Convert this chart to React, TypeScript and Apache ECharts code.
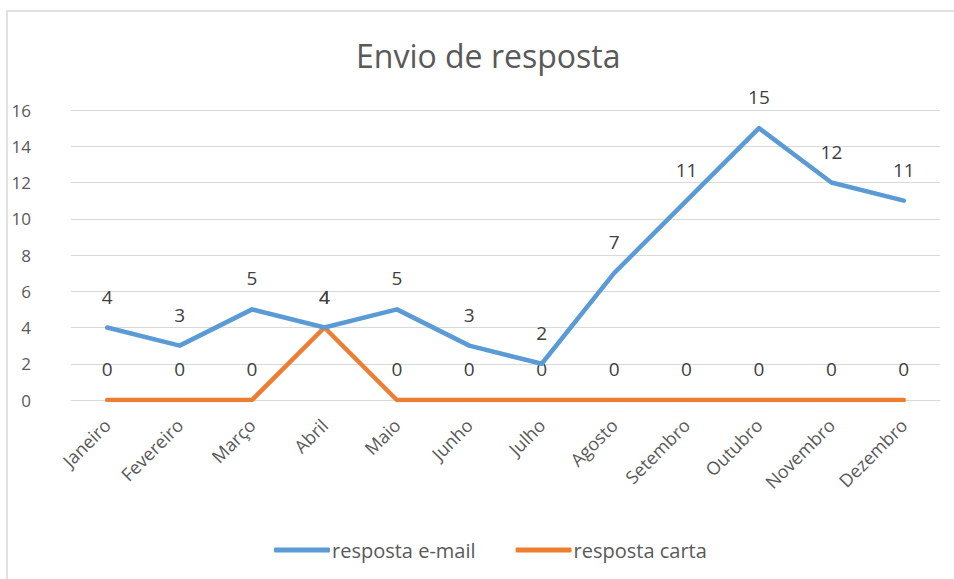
import React, { useEffect, useRef } from "react";
import * as echarts from "echarts";

const months = ["Janeiro", "Fevereiro", "Março", "Abril", "Maio", "Junho", "Julho", "Agosto", "Setembro", "Outubro", "Novembro", "Dezembro"];
const emailValues = [4, 3, 5, 4, 5, 3, 2, 7, 11, 15, 12, 11];
const cartaValues = [0, 0, 0, 4, 0, 0, 0, 0, 0, 0, 0, 0];
const seriesNames = ["resposta e-mail", "resposta carta"];
const seriesColors = ["#5B9BD5", "#ED7D31"];
const titleText = "Envio de resposta";

const FONT = "'Open Sans', 'Liberation Sans', sans-serif";
const GREY = "#595959";

export default function App() {
  const ref = useRef<HTMLDivElement>(null);
  useEffect(() => {
    if (!ref.current) return;
    const chart = echarts.init(ref.current, undefined, { renderer: "svg" });
    const labelStyle = {
      show: true,
      position: "top" as const,
      distance: 21,
      fontSize: 19,
      color: "#404040",
      fontFamily: FONT,
    };
    chart.setOption({
      animation: false,
      backgroundColor: "#ffffff",
      textStyle: { fontFamily: FONT },
      title: {
        text: titleText,
        left: 351,
        top: 34,
        textStyle: { fontSize: 32, fontWeight: "normal", color: GREY, fontFamily: FONT },
      },
      graphic: [
        {
          type: "rect",
          shape: { x: 7, y: 11, width: 1200, height: 1000 },
          style: { fill: "none", stroke: "#d9d9d9", lineWidth: 1.5 },
          silent: true,
        },
      ],
      legend: {
        bottom: 14,
        left: 269,
        itemWidth: 56,
        itemHeight: 5,
        itemGap: 40,
        icon: "roundRect",
        textStyle: { fontSize: 20, color: GREY, fontFamily: FONT, padding: [0, 0, 0, -3] },
        data: seriesNames.map((n, i) => ({ name: n, itemStyle: { color: seriesColors[i] } })),
      },
      grid: { left: 71, right: 14, top: 110, bottom: 179, containLabel: false },
      xAxis: {
        type: "category",
        data: months,
        boundaryGap: true,
        axisLine: { show: true, lineStyle: { color: "#d9d9d9", width: 1 } },
        axisTick: { show: false },
        axisLabel: { rotate: 45, fontSize: 18, color: GREY, fontFamily: FONT, margin: 22, interval: 0 },
      },
      yAxis: {
        type: "value",
        min: 0,
        max: 16,
        interval: 2,
        axisLine: { show: false },
        axisTick: { show: false },
        axisLabel: { fontSize: 17, color: GREY, fontFamily: FONT, margin: 40, align: "right" },
        splitLine: { lineStyle: { color: "#d9d9d9", width: 1.2 } },
      },
      series: [
        {
          name: seriesNames[0],
          type: "line",
          data: emailValues,
          symbol: "circle",
          symbolSize: 1,
          showSymbol: true,
          lineStyle: { color: seriesColors[0], width: 4.5, cap: "round", join: "round" },
          itemStyle: { color: seriesColors[0] },
          label: labelStyle,
          labelLayout: { hideOverlap: false },
          z: 3,
        },
        {
          name: seriesNames[1],
          type: "line",
          data: cartaValues,
          symbol: "circle",
          symbolSize: 1,
          showSymbol: true,
          lineStyle: { color: seriesColors[1], width: 4.5, cap: "round", join: "round" },
          itemStyle: { color: seriesColors[1] },
          label: labelStyle,
          labelLayout: { hideOverlap: false },
          z: 2,
        },
      ],
    });
    return () => chart.dispose();
  }, []);
  return (
    <div
      ref={ref}
      style={{ position: "fixed", left: 0, top: 0, width: 954, height: 579 }}
    />
  );
}
